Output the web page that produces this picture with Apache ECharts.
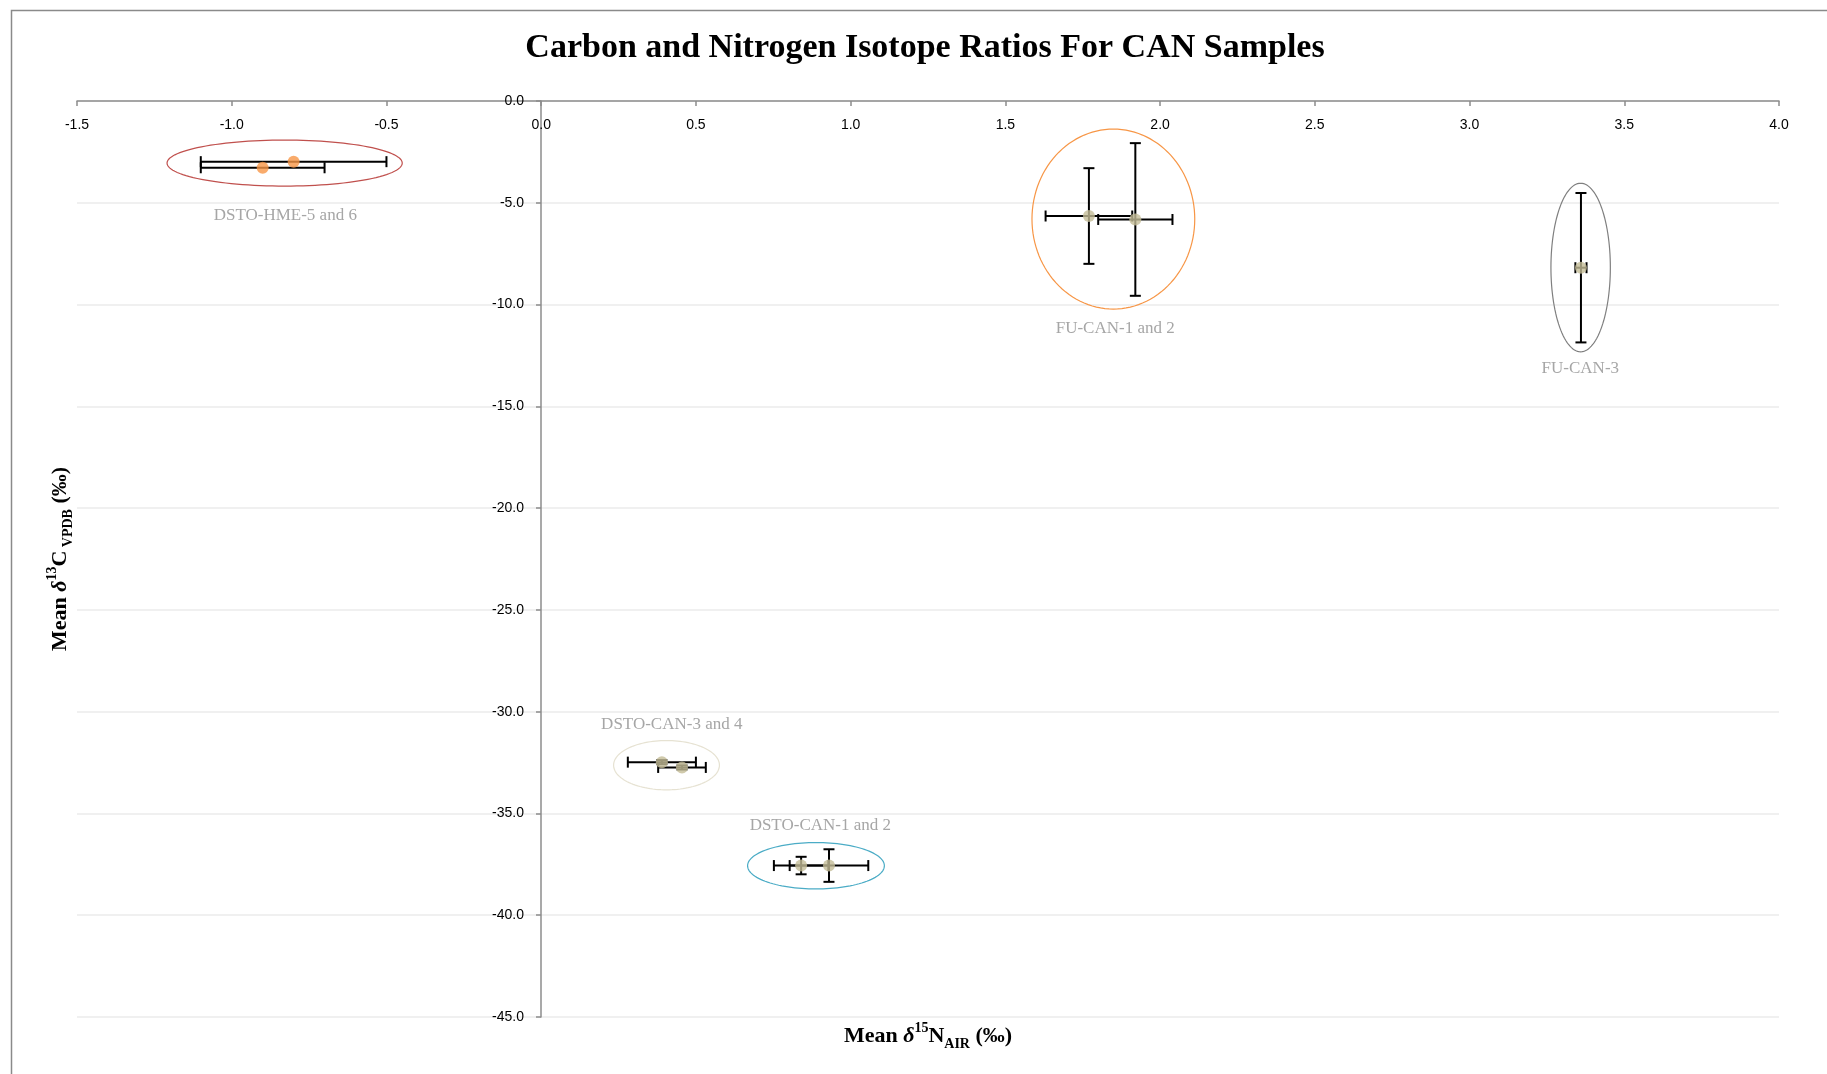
<!DOCTYPE html>
<html>
<head>
<meta charset="utf-8">
<title>Carbon and Nitrogen Isotope Ratios For CAN Samples</title>
<script src="https://cdn.jsdelivr.net/npm/echarts@6/dist/echarts.min.js"></script>
<style>
  html, body { margin: 0; padding: 0; background: #fff; }
  #chart { width: 1827px; height: 1074px; }
</style>
</head>
<body>
<div id="chart"></div>
<script>
// samples: mean values and error (one side)
const samples = ['DSTO-HME-5', 'DSTO-HME-6', 'FU-CAN-1', 'FU-CAN-2', 'FU-CAN-3',
  'DSTO-CAN-3', 'DSTO-CAN-4', 'DSTO-CAN-1', 'DSTO-CAN-2'];
const meanN15 = [-0.80, -0.90, 1.77, 1.92, 3.36, 0.39, 0.455, 0.84, 0.93];
const meanC13 = [-2.98, -3.28, -5.65, -5.82, -8.19, -32.48, -32.74, -37.56, -37.56];
const errN15 = [0.30, 0.20, 0.14, 0.12, 0.018, 0.11, 0.077, 0.088, 0.127];
const errC13 = [0, 0, 2.35, 3.75, 3.67, 0.1, 0.1, 0.43, 0.80];

// group rings (annotations) in data units
const groupNames = ['DSTO-HME-5 and 6', 'FU-CAN-1 and 2', 'FU-CAN-3', 'DSTO-CAN-3 and 4', 'DSTO-CAN-1 and 2'];
const ringN = [-0.829, 1.849, 3.359, 0.405, 0.888];
const ringC = [-3.05, -5.80, -8.18, -32.63, -37.57];
const ringHalfN = [0.380, 0.263, 0.096, 0.171, 0.221];
const ringHalfC = [1.13, 4.42, 4.14, 1.21, 1.14];
const labelN = [-0.827, 1.855, 3.358, 0.422, 0.902];
const labelC = [-5.63, -11.20, -13.16, -30.65, -35.59];

// axes
const xMin = -1.5, xMax = 4.0, xStep = 0.5;
const yMin = -45, yMax = 0, yStep = 5;

const ringColors = ['#c0504d', '#f79646', '#7f7f7f', '#e6e2d2', '#4bacc6'];
const serif = '"Liberation Serif", "DejaVu Serif", serif';
const sans = '"Liberation Sans", Arial, sans-serif';

const pointData = samples.map((s, i) => ({
  name: s,
  value: [meanN15[i], meanC13[i]],
  itemStyle: { color: s.indexOf('DSTO-HME') === 0 ? '#f79646' : '#c4bd97' }
}));
const errData = samples.map((s, i) => [meanN15[i], meanC13[i], errN15[i], errC13[i]]);
const ringData = groupNames.map((g, i) => [ringN[i], ringC[i], ringHalfN[i], ringHalfC[i], labelN[i], labelC[i]]);

function renderErr(params, api) {
  const n = api.value(0), c = api.value(1), en = api.value(2), ec = api.value(3);
  const style = { stroke: '#000', lineWidth: 2 };
  const cap = 5.5;
  const kids = [];
  if (en > 0) {
    const l = api.coord([n - en, c]), r = api.coord([n + en, c]);
    kids.push({ type: 'line', shape: { x1: l[0], y1: l[1], x2: r[0], y2: r[1] }, style });
    kids.push({ type: 'line', shape: { x1: l[0], y1: l[1] - cap, x2: l[0], y2: l[1] + cap }, style });
    kids.push({ type: 'line', shape: { x1: r[0], y1: r[1] - cap, x2: r[0], y2: r[1] + cap }, style });
  }
  if (ec > 0) {
    const t = api.coord([n, c + ec]), b = api.coord([n, c - ec]);
    kids.push({ type: 'line', shape: { x1: t[0], y1: t[1], x2: b[0], y2: b[1] }, style });
    kids.push({ type: 'line', shape: { x1: t[0] - cap, y1: t[1], x2: t[0] + cap, y2: t[1] }, style });
    kids.push({ type: 'line', shape: { x1: b[0] - cap, y1: b[1], x2: b[0] + cap, y2: b[1] }, style });
  }
  return { type: 'group', children: kids };
}

function renderRing(params, api) {
  const cn = api.value(0), cc = api.value(1), hn = api.value(2), hc = api.value(3);
  const ctr = api.coord([cn, cc]);
  const rx = api.coord([cn + hn, cc])[0] - ctr[0];
  const ry = api.coord([cn, cc - hc])[1] - ctr[1];
  const pts = [];
  for (let k = 0; k < 120; k++) {
    const a = k / 120 * Math.PI * 2;
    pts.push([ctr[0] + rx * Math.cos(a), ctr[1] + ry * Math.sin(a)]);
  }
  const lp = api.coord([api.value(4), api.value(5)]);
  return {
    type: 'group',
    children: [
      { type: 'polygon', shape: { points: pts }, style: { fill: 'none', stroke: ringColors[params.dataIndex], lineWidth: 1.2 } },
      { type: 'text', x: lp[0], y: lp[1], style: {
          text: groupNames[params.dataIndex], fill: '#a6a6a6',
          font: '17px ' + serif, align: 'center', verticalAlign: 'middle' } }
    ]
  };
}

const nameRich = {
  b: { fontFamily: serif, fontWeight: 'bold', fontSize: 22, lineHeight: 30, fill: '#000' },
  i: { fontFamily: serif, fontWeight: 'bold', fontStyle: 'italic', fontSize: 22, lineHeight: 30, fill: '#000' },
  sup: { fontFamily: serif, fontWeight: 'bold', fontSize: 14, verticalAlign: 'top', lineHeight: 16, fill: '#000' },
  sub: { fontFamily: serif, fontWeight: 'bold', fontSize: 14, verticalAlign: 'bottom', lineHeight: 16, fill: '#000' }
};

const chart = echarts.init(document.getElementById('chart'));
const option = {
  backgroundColor: '#fff',
  animation: false,
  title: {
    text: 'Carbon and Nitrogen Isotope Ratios For CAN Samples',
    left: 920, top: 26, textAlign: 'center',
    textStyle: { fontFamily: serif, fontWeight: 'bold', fontSize: 34, color: '#000' }
  },
  grid: { left: 77, right: 48, top: 101, bottom: 57 },
  xAxis: {
    type: 'value', min: xMin, max: xMax, interval: xStep, position: 'top',
    axisLine: { onZero: false, lineStyle: { color: '#8c8c8c', width: 1.5 } },
    axisTick: { show: true, inside: true, length: 5, lineStyle: { color: '#8c8c8c', width: 1.5 } },
    axisLabel: { inside: true, margin: 17, color: '#000', fontSize: 14, fontFamily: sans,
      formatter: v => v.toFixed(1) },
    splitLine: { show: false }
  },
  yAxis: {
    type: 'value', min: yMin, max: yMax, interval: yStep, position: 'left', offset: -464,
    axisLine: { show: true, onZero: false, lineStyle: { color: '#8c8c8c', width: 1.5 } },
    axisTick: { show: true, length: 5, lineStyle: { color: '#8c8c8c', width: 1.5 } },
    axisLabel: { margin: 17, color: '#000', fontSize: 14, fontFamily: sans,
      formatter: v => v.toFixed(1) },
    splitLine: { show: true, lineStyle: { color: '#ebebeb', width: 1.5 } }
  },
  graphic: [
    { type: 'rect', left: 9, top: 8, silent: true, z: -10,
      shape: { width: 1900, height: 1100 }, style: { fill: 'none', stroke: '#8a8a8a', lineWidth: 1.5 } },
    { type: 'text', x: 928, y: 1036, z: 10, style: {
        text: '{b|Mean }{i|δ}{sup|15}{b|N}{sub|AIR}{b| (‰)}',
        align: 'center', verticalAlign: 'middle', rich: nameRich } },
    { type: 'text', x: 60, y: 559, rotation: Math.PI / 2, z: 10, style: {
        text: '{b|Mean }{i|δ}{sup|13}{b|C}{sub| VPDB}{b| (‰)}',
        align: 'center', verticalAlign: 'middle', rich: nameRich } }
  ],
  series: [
    { type: 'custom', name: 'rings', data: ringData, renderItem: renderRing, z: 2, silent: true },
    { type: 'custom', name: 'error bars', data: errData, renderItem: renderErr, z: 3, silent: true },
    { type: 'scatter', name: 'samples', data: pointData, symbol: 'circle', symbolSize: 12, z: 4 }
  ]
};
chart.setOption(option);
window.addEventListener('resize', () => chart.resize());
</script>
</body>
</html>
